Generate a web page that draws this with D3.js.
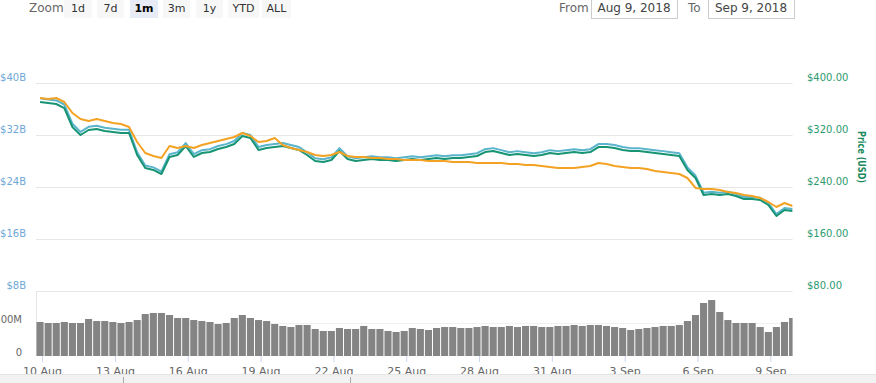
<!DOCTYPE html>
<html><head><meta charset="utf-8">
<script src="https://cdn.jsdelivr.net/npm/d3@7/dist/d3.min.js"></script>
<style>
html,body{margin:0;padding:0;background:#fff;}
svg{display:block;font-family:"DejaVu Sans",Verdana,sans-serif;}
</style></head>
<body>
<svg id="c" width="876" height="383"></svg>
<script>
// ---- data (8-hour samples, Aug 9 22:00 UTC -> Sep 9 22:00 UTC) ----
const seriesStart = "2018-08-09T22:00:00Z";
const stepHours = 8;
const priceUSD = [370.8,369.2,367.7,361.5,332.3,320.0,327.7,329.2,326.2,324.6,323.1,323.1,289.2,269.2,266.2,260.0,
286.2,289.2,303.1,286.2,292.3,293.8,298.5,301.5,306.2,318.5,315.4,296.9,300.0,301.5,303.1,300.0,296.9,289.2,280.0,
278.5,281.5,295.4,283.1,280.0,281.5,283.1,281.5,281.5,280.0,281.5,283.1,281.5,283.1,284.6,283.1,284.6,284.6,286.2,
287.7,293.8,295.4,292.3,289.2,290.8,289.2,287.7,289.2,292.3,290.8,292.3,293.8,292.3,293.8,301.5,301.5,300.0,296.9,
295.4,295.4,293.8,292.3,290.8,289.2,287.7,266.2,253.8,227.7,229.2,227.7,229.2,226.2,221.5,221.5,220.0,212.3,195.4,
204.6,203.1];
const marketCapB = [37.64,37.47,37.32,36.69,33.73,32.48,33.26,33.41,33.11,32.95,32.79,32.79,29.35,27.32,27.02,26.39,
29.05,29.35,30.76,29.05,29.67,29.82,30.30,30.60,31.08,32.33,32.01,30.14,30.45,30.60,30.76,30.45,30.14,29.35,28.42,
28.27,28.57,29.98,28.73,28.42,28.57,28.73,28.57,28.57,28.42,28.57,28.73,28.57,28.73,28.89,28.73,28.89,28.89,29.05,
29.20,29.82,29.98,29.67,29.35,29.52,29.35,29.20,29.35,29.67,29.52,29.67,29.82,29.67,29.82,30.60,30.60,30.45,30.14,
29.98,29.98,29.82,29.67,29.52,29.35,29.20,27.02,25.76,23.11,23.26,23.11,23.26,22.96,22.48,22.48,22.33,21.55,19.83,
20.77,20.61];
const priceBTC = [0.05615,0.05590,0.05615,0.05513,0.05231,0.05077,0.05026,0.05077,0.05026,0.04974,0.04949,0.04872,
0.04487,0.04205,0.04128,0.04077,0.04385,0.04333,0.04385,0.04333,0.04410,0.04462,0.04513,0.04564,0.04615,0.04718,
0.04641,0.04487,0.04513,0.04590,0.04410,0.04333,0.04282,0.04231,0.04154,0.04128,0.04154,0.04231,0.04128,0.04103,
0.04103,0.04077,0.04077,0.04051,0.04051,0.04026,0.04026,0.04026,0.04000,0.04000,0.04000,0.03974,0.03974,0.03974,
0.03949,0.03949,0.03949,0.03949,0.03923,0.03923,0.03897,0.03897,0.03872,0.03846,0.03821,0.03821,0.03821,0.03846,
0.03872,0.03949,0.03923,0.03872,0.03846,0.03821,0.03821,0.03795,0.03744,0.03718,0.03692,0.03667,0.03564,0.03308,
0.03282,0.03282,0.03256,0.03205,0.03179,0.03128,0.03103,0.03051,0.02949,0.02821,0.02923,0.02846];
const volumeM = [515,500,500,515,500,500,561,530,530,515,500,515,545,636,652,652,621,576,576,545,530,515,485,500,
576,621,576,545,530,485,455,439,470,470,409,379,379,424,409,409,455,409,409,379,364,379,424,409,394,424,439,439,
424,424,439,455,439,439,455,439,455,455,439,439,455,455,470,455,470,470,455,439,424,394,409,424,439,455,455,470,
530,621,803,848,667,545,500,500,500,439,364,439,515,576];
const capTicks = [8,16,24,32,40];
const usdTicks = [80,160,240,320,400];
const volTicks = [0,500];
const xTickLabels = ["2018-08-10","2018-08-13","2018-08-16","2018-08-19","2018-08-22","2018-08-25",
"2018-08-28","2018-08-31","2018-09-03","2018-09-06","2018-09-09"];
const zoomButtons = ["1d","7d","1m","3m","1y","YTD","ALL"];
const selectedZoom = "1m";
const rangeFrom = "Aug 9, 2018", rangeTo = "Sep 9, 2018";
const axisTitle = "Price (USD)";

// ---- layout ----
const svg = d3.select("#c");
const L = 36, R = 792.6;
const t0 = new Date(seriesStart).getTime();
const times = priceUSD.map((_, i) => new Date(t0 + i * stepHours * 3600e3));
const x = d3.scaleUtc().domain([new Date("2018-08-09T18:00:00Z"), new Date("2018-09-09T22:00:00Z")]).range([L, R]);
const yUSD = d3.scaleLinear().domain([80, 400]).range([291, 83]);
const yCap = d3.scaleLinear().domain([8, 40]).range([291, 83]);
const yBTC = d3.scaleLinear().domain([0.02, 0.06]).range([239, 83]);
const yVol = d3.scaleLinear().domain([0, 1000]).range([356, 290]);

svg.append("defs").append("clipPath").attr("id","clip").append("rect")
  .attr("x", L).attr("y", 60).attr("width", R - L).attr("height", 300);

// gridlines
svg.append("g").selectAll("line").data(usdTicks).join("line")
  .attr("x1", L).attr("x2", R).attr("y1", d => Math.round(yUSD(d)) + 0.5).attr("y2", d => Math.round(yUSD(d)) + 0.5)
  .attr("stroke", "#e6e6e6");
svg.append("line").attr("x1", L).attr("x2", R)
  .attr("y1", Math.round(yVol(500)) + 0.5).attr("y2", Math.round(yVol(500)) + 0.5).attr("stroke", "#f0f0f0");
svg.append("line").attr("x1", L + 0.5).attr("x2", L + 0.5).attr("y1", 291).attr("y2", 356).attr("stroke", "#e6e6e6");

// volume bars
const stepPx = x(new Date(t0 + stepHours * 3600e3)) - x(new Date(t0));
svg.append("g").attr("clip-path", "url(#clip)").selectAll("rect").data(volumeM).join("rect")
  .attr("x", (d, i) => x(times[i]) - stepPx / 2 + 0.5)
  .attr("width", stepPx - 1)
  .attr("y", d => yVol(d)).attr("height", d => yVol(0) - yVol(d))
  .attr("fill", "#848484");

// lines
const mk = (ys, vals) => d3.line().x((d, i) => x(times[i])).y(d => ys(d))(vals);
const lg = svg.append("g").attr("clip-path", "url(#clip)").attr("fill", "none").attr("stroke-width", 2).attr("stroke-linejoin","round");
lg.append("path").attr("d", mk(yCap, marketCapB)).attr("stroke", "#5ab4cc");
lg.append("path").attr("d", mk(yUSD, priceUSD)).attr("stroke", "#169473");
lg.append("path").attr("d", mk(yBTC, priceBTC)).attr("stroke", "#f4a224");

// left price (market cap) axis
const ga = svg.append("g").attr("transform", "translate(26,0)")
  .call(d3.axisLeft(yCap).tickValues(capTicks).tickFormat(d => "$" + d + "B").tickSize(0).tickPadding(0));
ga.select(".domain").remove();
ga.selectAll("text").attr("y", -6).attr("fill", "#6fa8d6").attr("font-size", 10).attr("font-family", "DejaVu Sans");

// volume axis
const gv = svg.append("g").attr("transform", "translate(22,0)")
  .call(d3.axisLeft(yVol).tickValues(volTicks).tickFormat(d => d === 0 ? "0" : d + "M").tickSize(0).tickPadding(0));
gv.select(".domain").remove();
gv.selectAll("text").attr("y", -4).attr("fill", "#666").attr("font-size", 10).attr("font-family", "DejaVu Sans");

// right price axis
const gr = svg.append("g").attr("transform", "translate(807,0)")
  .call(d3.axisRight(yUSD).tickValues(usdTicks).tickFormat(d => "$" + d.toFixed(2)).tickSize(0).tickPadding(0));
gr.select(".domain").remove();
gr.selectAll("text").attr("y", -6).attr("fill", "#2f9a72").attr("font-size", 10).attr("font-family", "DejaVu Sans");
svg.append("text").attr("transform", "translate(858,157) rotate(90)").attr("text-anchor", "middle")
  .attr("font-size", 10).attr("font-weight", "bold").attr("fill", "#1b8a5e")
  .attr("textLength", 52).attr("lengthAdjust", "spacingAndGlyphs").text(axisTitle);

// x axis
const gx = svg.append("g").attr("transform", "translate(0,356)")
  .call(d3.axisBottom(x).tickValues(xTickLabels.map(s => new Date(s + "T00:00:00Z")))
    .tickFormat(d3.utcFormat("%-d %b")).tickSize(6));
gx.select(".domain").remove();
gx.selectAll("line").attr("stroke", "#ccd6eb");
gx.selectAll("text").attr("y", 11).attr("fill", "#666").attr("font-size", 11).attr("font-family", "DejaVu Sans");

// navigator band (cut off at bottom)
svg.append("rect").attr("x", 0).attr("y", 374).attr("width", 876).attr("height", 9).attr("fill", "#f2f2f2");
svg.append("line").attr("x1", 0).attr("x2", 876).attr("y1", 374.5).attr("y2", 374.5).attr("stroke", "#e4e4e4");
[123, 350].forEach(px => svg.append("line").attr("x1", px + 0.5).attr("x2", px + 0.5).attr("y1", 377).attr("y2", 383).attr("stroke", "#aaa"));

// top toolbar
svg.append("text").attr("x", 29).attr("y", 12).attr("font-size", 12).attr("fill", "#666").text("Zoom");
const bx = [64, 97, 130, 163, 196, 228, 262];
const bw = [28, 27, 28, 27, 27, 31, 29];
const bg = svg.append("g");
zoomButtons.forEach((b, i) => {
  const sel = b === selectedZoom;
  bg.append("rect").attr("x", bx[i]).attr("y", 0).attr("width", bw[i]).attr("height", 18)
    .attr("fill", sel ? "#e6ebf5" : "#f7f7f7");
  bg.append("text").attr("x", bx[i] + bw[i] / 2).attr("y", 12).attr("text-anchor", "middle")
    .attr("font-size", 11).attr("font-weight", sel ? "bold" : "normal").attr("fill", sel ? "#000" : "#333").text(b);
});
svg.append("text").attr("x", 559).attr("y", 12).attr("font-size", 12).attr("fill", "#666").text("From");
svg.append("text").attr("x", 688).attr("y", 12).attr("font-size", 12).attr("fill", "#666").text("To");
[[591, rangeFrom], [708, rangeTo]].forEach(([bx0, s]) => {
  svg.append("rect").attr("x", bx0 + 0.5).attr("y", -1).attr("width", 86).attr("height", 19.5)
    .attr("fill", "#fff").attr("stroke", "#ccc");
  svg.append("text").attr("x", bx0 + 43).attr("y", 12).attr("text-anchor", "middle")
    .attr("font-size", 12).attr("fill", "#444").text(s);
});
</script>
</body></html>
